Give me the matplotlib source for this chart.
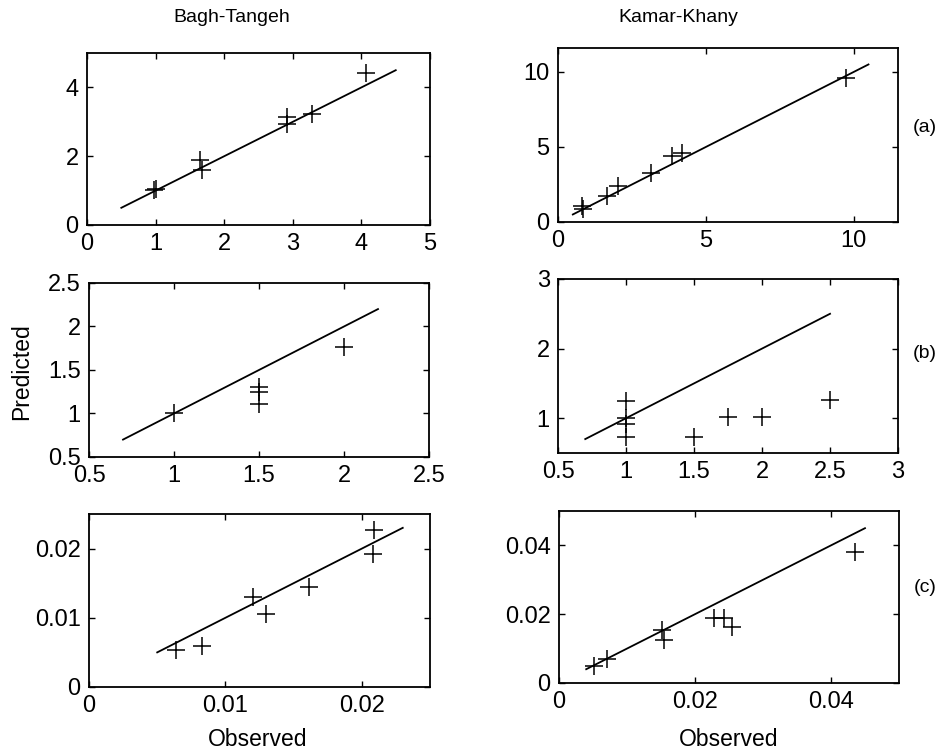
import matplotlib
matplotlib.use("Agg")
import matplotlib.pyplot as plt
from matplotlib.ticker import FuncFormatter

plt.rcParams['font.family'] = ['Liberation Sans', 'DejaVu Sans']

# (a) Bagh-Tangeh
obs_a1 = [0.98, 1.0, 1.645, 1.67, 2.91, 2.91, 3.28, 4.07]
pred_a1 = [1.02, 1.05, 1.90, 1.59, 3.14, 2.93, 3.24, 4.41]
# (a) Kamar-Khany
obs_a2 = [0.8, 0.86, 1.67, 2.04, 3.16, 3.84, 4.18, 9.75]
pred_a2 = [1.05, 0.88, 1.76, 2.40, 3.24, 4.40, 4.58, 9.62]
# (b) Bagh-Tangeh
obs_b1 = [1.0, 1.5, 1.5, 1.5, 2.0]
pred_b1 = [1.0, 1.30, 1.25, 1.11, 1.76]
# (b) Kamar-Khany
obs_b2 = [1.0, 1.0, 1.0, 1.0, 1.5, 1.75, 2.0, 2.5]
pred_b2 = [1.25, 1.0, 0.91, 0.73, 0.73, 1.02, 1.02, 1.26]
# (c) Bagh-Tangeh
obs_c1 = [0.0064, 0.0083, 0.0120, 0.0130, 0.0161, 0.0209, 0.0208]
pred_c1 = [0.0054, 0.0059, 0.0130, 0.0106, 0.0144, 0.0227, 0.0192]
# (c) Kamar-Khany
obs_c2 = [0.0051, 0.0070, 0.0152, 0.0155, 0.0228, 0.0242, 0.0254, 0.0436]
pred_c2 = [0.0050, 0.0069, 0.0155, 0.0126, 0.0189, 0.0189, 0.0164, 0.0380]

# 1:1 line ends
line_a1 = [0.5, 4.5]
line_a2 = [0.5, 10.5]
line_b1 = [0.7, 2.2]
line_b2 = [0.7, 2.5]
line_c1 = [0.005, 0.023]
line_c2 = [0.004, 0.045]

panels = [
    # rect, obs, pred, line, xlim, ylim, xticks, yticks
    ([0.0915, 0.7016, 0.3607, 0.2281], obs_a1, pred_a1, line_a1, (0, 5), (0, 5),
     [0, 1, 2, 3, 4, 5], [0, 2, 4]),
    ([0.5868, 0.7056, 0.3575, 0.2308], obs_a2, pred_a2, line_a2, (0, 11.5), (0, 11.6),
     [0, 5, 10], [0, 5, 10]),
    ([0.0936, 0.3939, 0.3575, 0.2308], obs_b1, pred_b1, line_b1, (0.5, 2.5), (0.5, 2.5),
     [0.5, 1, 1.5, 2, 2.5], [0.5, 1, 1.5, 2, 2.5]),
    ([0.5868, 0.3992, 0.3575, 0.2308], obs_b2, pred_b2, line_b2, (0.5, 3), (0.5, 3),
     [0.5, 1, 1.5, 2, 2.5, 3], [1, 2, 3]),
    ([0.0936, 0.0889, 0.3586, 0.2294], obs_c1, pred_c1, line_c1, (0, 0.025), (0, 0.025),
     [0, 0.01, 0.02], [0, 0.01, 0.02]),
    ([0.5878, 0.0942, 0.3575, 0.2281], obs_c2, pred_c2, line_c2, (0, 0.05), (0, 0.05),
     [0, 0.02, 0.04], [0, 0.02, 0.04]),
]

fig = plt.figure(figsize=(9.51, 7.54), dpi=100)

for rect, xo, yp, ln, xl, yl, xt, yt in panels:
    ax = fig.add_axes(rect)
    ax.plot(ln, ln, color='black', lw=1.3)
    ax.plot(xo, yp, linestyle='none', marker='+', color='black', ms=13, mew=1.1)
    ax.set_xlim(*xl)
    ax.set_ylim(*yl)
    ax.set_xticks(xt)
    ax.set_yticks(yt)
    fmt = FuncFormatter(lambda v, p: '%g' % v)
    ax.xaxis.set_major_formatter(fmt)
    ax.yaxis.set_major_formatter(fmt)
    ax.tick_params(direction='in', length=4, width=1, top=True, right=True,
                   labelsize=17, pad=6)
    for s in ax.spines.values():
        s.set_linewidth(1.3)

fig.text(232 / 951, 1 - 17 / 754, 'Bagh-Tangeh', ha='center', va='center', fontsize=14)
fig.text(678 / 951, 1 - 17 / 754, 'Kamar-Khany', ha='center', va='center', fontsize=14)
fig.text(22 / 951, 1 - 372 / 754, 'Predicted', ha='center', va='center', rotation=90, fontsize=16.5)
fig.text(258 / 951, 1 - 740 / 754, 'Observed', ha='center', va='center', fontsize=16.5)
fig.text(729 / 951, 1 - 740 / 754, 'Observed', ha='center', va='center', fontsize=16.5)
fig.text(925 / 951, 1 - 128 / 754, '(a)', ha='center', va='center', fontsize=14)
fig.text(925 / 951, 1 - 353 / 754, '(b)', ha='center', va='center', fontsize=14)
fig.text(925 / 951, 1 - 588 / 754, '(c)', ha='center', va='center', fontsize=14)

fig.savefig('out.png', dpi=100)
